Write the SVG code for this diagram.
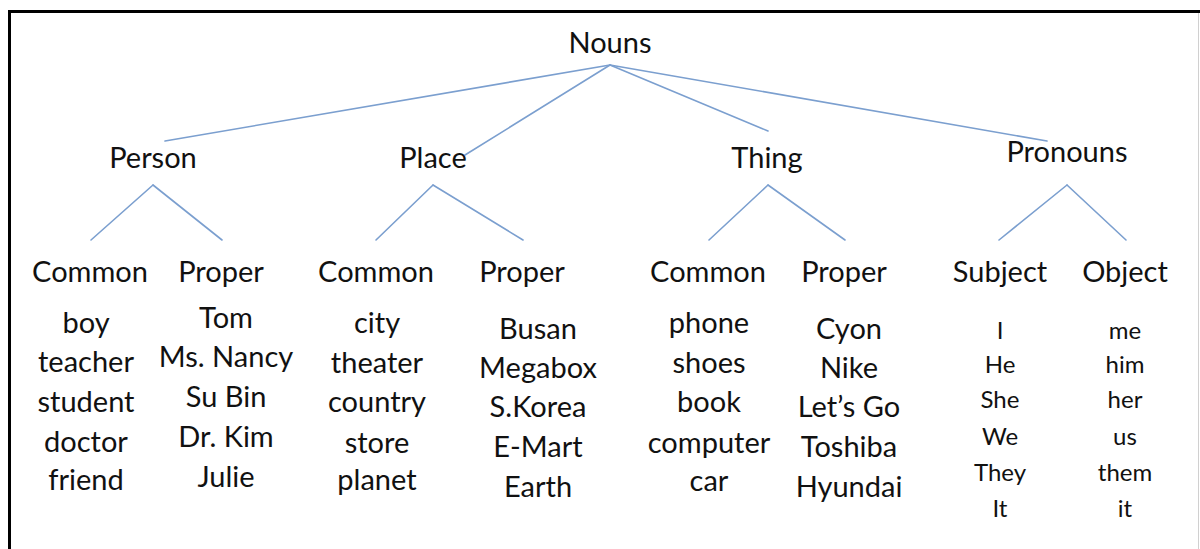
<svg xmlns="http://www.w3.org/2000/svg" width="1200" height="549" viewBox="0 0 1200 549">
<style>
text{font-family:Lato,"Open Sans",sans-serif;fill:#111;text-anchor:middle}
.t{font-size:29px}
.s{font-size:24px}
.c line{stroke:#7b9fcf;stroke-width:1.6;stroke-linecap:round}
</style>
<rect width="1200" height="549" fill="#fff"/>
<path d="M9.5,549 V11.5 H1200" fill="none" stroke="#000" stroke-width="3"/>
<line x1="1198.5" y1="13" x2="1198.5" y2="549" stroke="#d0d0d0" stroke-width="1"/>
<g class="c" id="connectors">
<line x1="610" y1="65" x2="165" y2="141"/>
<line x1="610" y1="65" x2="465" y2="155"/>
<line x1="610" y1="65" x2="768" y2="131"/>
<line x1="610" y1="65" x2="1047" y2="141"/>
<line x1="153" y1="185" x2="91" y2="240"/>
<line x1="153" y1="185" x2="222" y2="240"/>
<line x1="433" y1="185" x2="376" y2="240"/>
<line x1="433" y1="185" x2="523" y2="240"/>
<line x1="768" y1="185" x2="709" y2="240"/>
<line x1="768" y1="185" x2="845" y2="240"/>
<line x1="1067" y1="185" x2="999" y2="240"/>
<line x1="1067" y1="185" x2="1126" y2="240"/>
</g>
<g id="nouns"><text class="t" x="610" y="53">Nouns</text></g>
<g id="person"><text class="t" x="153" y="168">Person</text></g>
<g id="place"><text class="t" x="433" y="168">Place</text></g>
<g id="thing"><text class="t" x="767" y="168">Thing</text></g>
<g id="pronouns"><text class="t" x="1067" y="162">Pronouns</text></g>
<g id="person-common"><text class="t" x="90" y="282">Common</text>
<text class="t" x="86" y="333">boy</text><text class="t" x="86" y="372">teacher</text><text class="t" x="86" y="412">student</text><text class="t" x="86" y="452">doctor</text><text class="t" x="86" y="490">friend</text></g>
<g id="person-proper"><text class="t" x="221" y="282">Proper</text>
<text class="t" x="226" y="328">Tom</text><text class="t" x="226" y="367">Ms. Nancy</text><text class="t" x="226" y="407">Su Bin</text><text class="t" x="226" y="447">Dr. Kim</text><text class="t" x="226" y="487">Julie</text></g>
<g id="place-common"><text class="t" x="376" y="282">Common</text>
<text class="t" x="377" y="333">city</text><text class="t" x="377" y="373">theater</text><text class="t" x="377" y="412">country</text><text class="t" x="377" y="453">store</text><text class="t" x="377" y="490">planet</text></g>
<g id="place-proper"><text class="t" x="522" y="282">Proper</text>
<text class="t" x="538" y="339">Busan</text><text class="t" x="538" y="378">Megabox</text><text class="t" x="538" y="417">S.Korea</text><text class="t" x="538" y="457">E-Mart</text><text class="t" x="538" y="497">Earth</text></g>
<g id="thing-common"><text class="t" x="708" y="282">Common</text>
<text class="t" x="709" y="333">phone</text><text class="t" x="709" y="373">shoes</text><text class="t" x="709" y="412">book</text><text class="t" x="709" y="453">computer</text><text class="t" x="709" y="491">car</text></g>
<g id="thing-proper"><text class="t" x="844" y="282">Proper</text>
<text class="t" x="849" y="339">Cyon</text><text class="t" x="849" y="378">Nike</text><text class="t" x="849" y="417">Let’s Go</text><text class="t" x="849" y="457">Toshiba</text><text class="t" x="849" y="497">Hyundai</text></g>
<g id="subject"><text class="t" x="1000" y="282">Subject</text>
<text class="s" x="1000" y="339">I</text><text class="s" x="1000" y="373">He</text><text class="s" x="1000" y="408">She</text><text class="s" x="1000" y="445">We</text><text class="s" x="1000" y="481">They</text><text class="s" x="1000" y="517">It</text></g>
<g id="object"><text class="t" x="1125" y="282">Object</text>
<text class="s" x="1125" y="339">me</text><text class="s" x="1125" y="373">him</text><text class="s" x="1125" y="408">her</text><text class="s" x="1125" y="445">us</text><text class="s" x="1125" y="481">them</text><text class="s" x="1125" y="517">it</text></g>
</svg>
